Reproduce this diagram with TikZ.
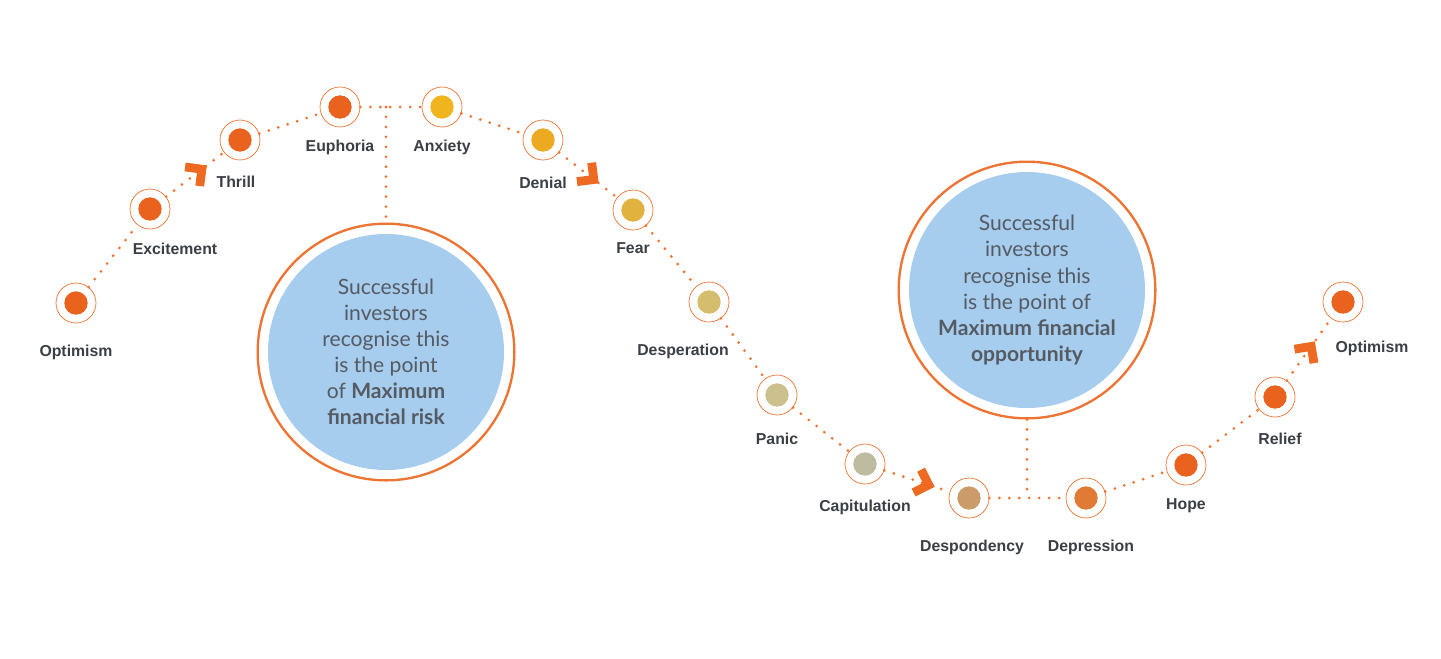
\documentclass[tikz,border=0pt]{standalone}
\usepackage{fontspec}
\setmainfont{Liberation Sans}
\newfontfamily\circfont{Lato}
\usetikzlibrary{positioning, calc}

\definecolor{trailor}{HTML}{EE7433}
\definecolor{chevor}{HTML}{EE6A22}
\definecolor{labelgray}{HTML}{3A3F45}
\definecolor{circgray}{HTML}{555B63}
\definecolor{circblue}{HTML}{A6CCEE}
\definecolor{dotor}{HTML}{E9621E}
\definecolor{dotanx}{HTML}{F0B41E}
\definecolor{dotden}{HTML}{EBAA22}
\definecolor{dotfear}{HTML}{E1B23E}
\definecolor{dotdesp}{HTML}{D5BD6E}
\definecolor{dotpanic}{HTML}{CBC08E}
\definecolor{dotcap}{HTML}{BDBBA0}
\definecolor{dotdspd}{HTML}{CB9C6A}
\definecolor{dotdepr}{HTML}{E17A35}

\begin{document}
\begin{tikzpicture}[
  x=0.3mm, y=-0.3mm,
  stage/.style={circle, draw=trailor, line width=0.6pt, fill=white, minimum size=12mm, inner sep=0pt,
    path picture={\fill[#1] (path picture bounding box.center) circle (3.5mm);}},
  lbl/.style={font=\bfseries\fontsize{13.5}{16}\selectfont, text=labelgray, inner sep=0pt, text height=10pt, text depth=3pt},
  trail/.style={draw=trailor, line width=2.6pt, line cap=round, dash pattern=on 0pt off 8.5pt},
  bigring/.style={circle, draw=trailor, line width=2pt, fill=white, minimum size=77mm, inner sep=0pt, align=center,
    font=\circfont\fontsize{18}{22.2}\selectfont, text=circgray,
    path picture={\fill[circblue] (path picture bounding box.center) circle (35.4mm);}},
  chevron/.style={draw=chevor, solid, line width=7.5pt, line cap=butt, line join=miter},
  chev/.pic={\draw[chevron] (-3.6mm,3.6mm) -- (0,0) -- (-3.6mm,-3.6mm);}
]
\useasboundingbox (0,0) rectangle (1441,658);

% stages of the cycle
\node[stage=dotor] (optA) at (76,303) {};
\node[stage=dotor] (excite) at (150,209) {};
\node[stage=dotor] (thrill) at (240,140) {};
\node[stage=dotor] (euphoria) at (340,107) {};
\node[stage=dotanx] (anxiety) at (442,107) {};
\node[stage=dotden] (denial) at (543,140) {};
\node[stage=dotfear] (fear) at (633,210) {};
\node[stage=dotdesp] (desper) at (709,302) {};
\node[stage=dotpanic] (panic) at (777,395) {};
\node[stage=dotcap] (capit) at (865,464) {};
\node[stage=dotdspd] (despond) at (969,498) {};
\node[stage=dotdepr] (depress) at (1086,498) {};
\node[stage=dotor] (hope) at (1186,465) {};
\node[stage=dotor] (relief) at (1275,397) {};
\node[stage=dotor] (optB) at (1343,302) {};

\node[lbl, below=6.4mm of optA] (optAlbl) {Optimism};
\node[lbl, below=4.0mm of excite, xshift=7.5mm] (excitelbl) {Excitement};
\node[lbl, below=4.6mm of thrill, xshift=-1.2mm] (thrilllbl) {Thrill};
\node[lbl, below=3.7mm of euphoria] (euphorialbl) {Euphoria};
\node[lbl, below=3.7mm of anxiety] (anxietylbl) {Anxiety};
\node[lbl, below=4.9mm of denial] (deniallbl) {Denial};
\node[lbl, below=3.4mm of fear] (fearlbl) {Fear};
\node[lbl, below=6.4mm of desper, xshift=-7.8mm] (desperlbl) {Desperation};
\node[lbl, below=5.2mm of panic] (paniclbl) {Panic};
\node[lbl, below=4.6mm of capit] (capitlbl) {Capitulation};
\node[lbl, below=6.4mm of despond, xshift=0.9mm] (despondlbl) {Despondency};
\node[lbl, below=6.4mm of depress, xshift=1.5mm] (depresslbl) {Depression};
\node[lbl, below=3.7mm of hope] (hopelbl) {Hope};
\node[lbl, below=4.6mm of relief, xshift=1.5mm] (relieflbl) {Relief};
\node[lbl, below=5.5mm of optB, xshift=8.7mm] (optBlbl) {Optimism};

% the two call-outs
\node[bigring] (risk) at (386,352) {Successful\\investors\\recognise this\\is the point\\of \textbf{Maximum}\\\textbf{financial risk}};
\node[bigring] (chance) at (1027,290) {Successful\\investors\\recognise this\\is the point of\\\textbf{Maximum financial}\\\textbf{opportunity}};
\coordinate (peak) at (risk.north |- euphoria);
\coordinate (trough) at (chance.south |- despond);

\foreach \a/\b in {optA/excite, excite/thrill, thrill/euphoria, euphoria/anxiety, anxiety/denial, denial/fear,
  fear/desper, desper/panic, panic/capit, capit/despond, despond/depress, depress/hope, hope/relief, relief/optB}
  \draw[trail] (\a) -- (\b);
\draw[trail] (peak) -- (risk);
\draw[trail] (chance) -- (trough);

% direction marks
\path (excite) -- (thrill) pic[pos=0.62, sloped] {chev};
\path (denial) -- (fear) pic[pos=0.6, sloped] {chev};
\path (capit) -- (despond) pic[pos=0.68, sloped] {chev};
\path (relief) -- (optB) pic[pos=0.55, sloped] {chev};
\end{tikzpicture}
\end{document}
